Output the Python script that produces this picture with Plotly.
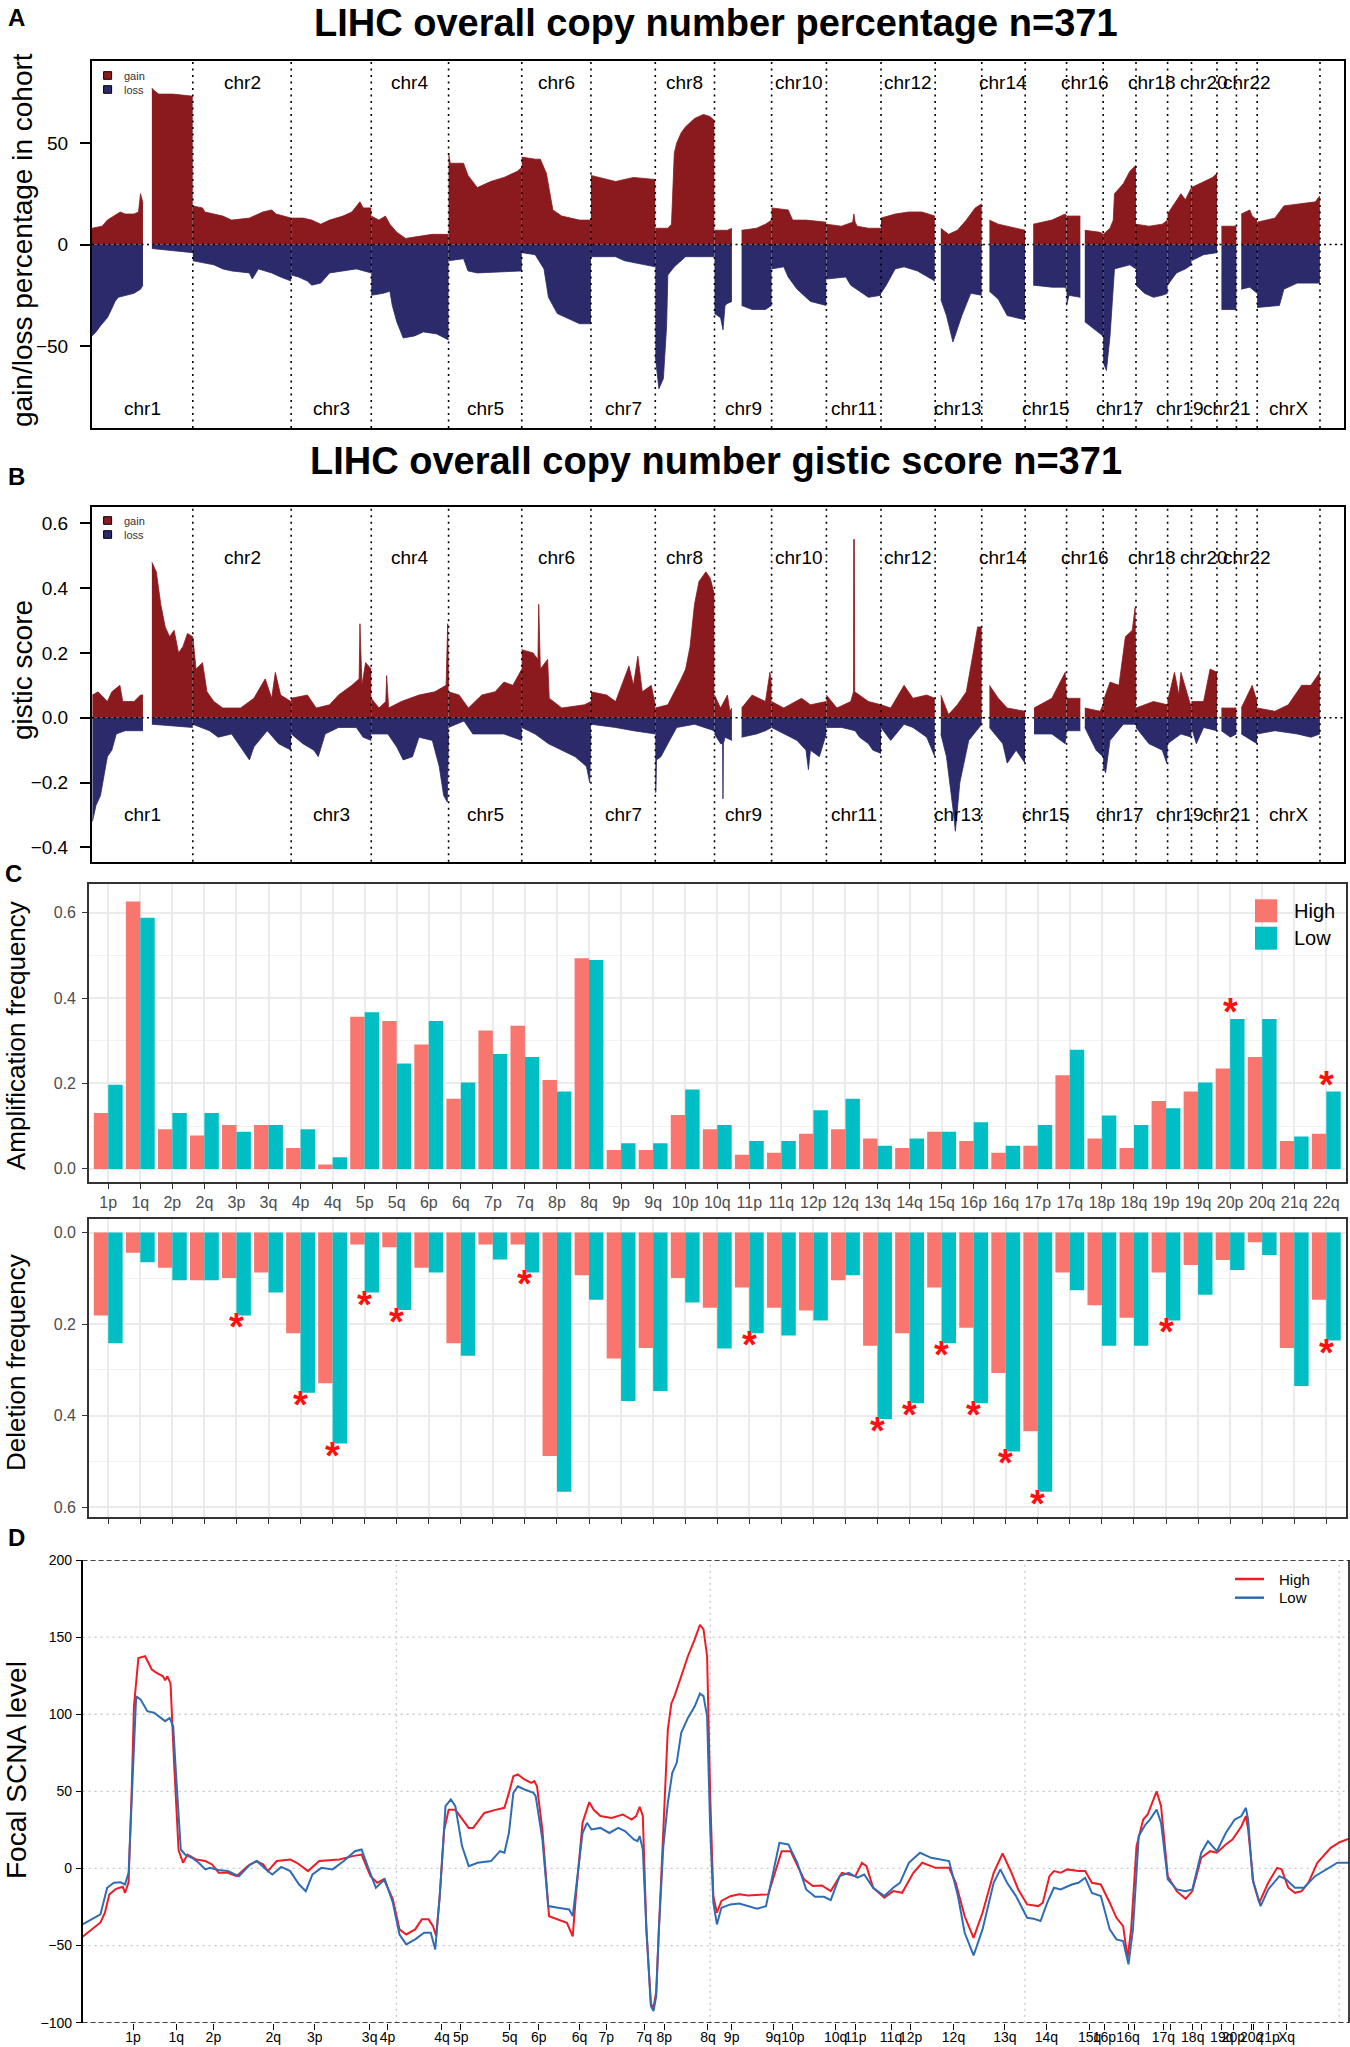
import plotly.graph_objects as go

W, H = 1350, 2047
FONT = "Liberation Sans, Arial, Helvetica, sans-serif"

# ---------------- data: panels A / B (genome profiles) ----------------
CHROMS = ["1", "2", "3", "4", "5", "6", "7", "8", "9", "10", "11", "12", "13", "14",
          "15", "16", "17", "18", "19", "20", "21", "22", "X"]
CHROM_LEN = [249.3, 243.2, 198.0, 191.2, 180.9, 171.1, 159.1, 146.4, 141.2, 135.5, 135.0,
             133.9, 115.2, 107.3, 102.5, 90.4, 81.2, 78.1, 59.1, 63.0, 48.1, 51.3, 155.3]
GENOME_END = 3095.7  # includes chrY space

# position (Mb within chromosome), value ; None splits arms
PCT_GAIN = {
    "1": ([0, 25, 38, 55, 70, 82, 104, 115, 120, 124, 126, None, 148, 152, 165, 200, 249],
          [8, 9, 12, 14, 16, 15, 15, 16, 25, 22, 20, None, 77, 76, 74, 74, 73]),
    "2": ([0, 24, 30, 52, 74, 96, 140, 173, 195, 206, 228, 243],
          [19, 18, 16, 15, 14, 12, 13, 16, 17, 15, 14, 13]),
    "3": ([0, 29, 51, 73, 95, 128, 150, 170, 178, 198], [13, 13, 12, 10, 12, 14, 16, 21, 18, 18]),
    "4": ([0, 19, 35, 46, 63, 85, 118, 151, 191], [14, 12, 14, 10, 6, 3, 4, 5, 5]),
    "5": ([0, 4, 37, 48, 71, 104, 137, 170, 181], [45, 40, 40, 34, 28, 31, 33, 36, 38]),
    "6": ([0, 33, 46, 61, 77, 99, 143, 171], [43, 42, 42, 35, 17, 14, 12, 12]),
    "7": ([0, 39, 61, 105, 159], [34, 32, 31, 33, 32]),
    "8": ([0, 20, 31, 40, 44, 47, 53, 64, 75, 97, 119, 135, 146],
          [8, 8, 8, 10, 30, 45, 50, 55, 58, 62, 64, 63, 61]),
    "9": ([0, 32, 43, None, 67, 104, 126, 141], [7, 7, 8, None, 7, 8, 10, 12]),
    "10": ([0, 41, 52, 85, 135], [18, 17, 12, 12, 11]),
    "11": ([0, 37, 65, 68, 71, 76, 104, 135], [10, 9, 11, 15, 11, 9, 8, 8]),
    "12": ([0, 35, 68, 101, 133], [13, 15, 16, 16, 14]),
    "13": ([14, 33, 55, 77, 99, 115], [8, 5, 7, 12, 18, 20]),
    "14": ([19, 41, 63, 107], [12, 10, 9, 7]),
    "15": ([20, 66, 99, 102], [10, 12, 15, 14]),
    "16": ([0, 34, None, 45, 83, 90], [14, 14, None, 7, 6, 5]),
    "17": ([0, 17, 25, 28, 50, 66, 81], [5, 8, 12, 25, 30, 36, 39]),
    "18": ([0, 32, 65, 78], [10, 9, 10, 12]),
    "19": ([0, 22, 33, 44, 59], [15, 22, 25, 22, 28]),
    "20": ([0, 30, 52, 63], [28, 31, 33, 35]),
    "21": ([11, 48], [9, 9]),
    "22": ([12, 33, 39, 51], [15, 17, 14, 12]),
    "X": ([0, 44, 66, 99, 144, 155], [11, 13, 19, 20, 21, 24]),
}
PCT_LOSS = {
    "1": ([0, 10, 21, 38, 48, 57, 65, 82, 104, 120, 126, None, 148, 200, 249],
          [-45, -43, -40, -36, -32, -28, -26, -25, -24, -22, -20, None, -2, -3, -4]),
    "2": ([0, 30, 52, 74, 96, 140, 147, 162, 195, 217, 243],
          [-8, -9, -10, -12, -13, -14, -17, -12, -14, -16, -18]),
    "3": ([0, 18, 40, 51, 73, 95, 128, 161, 198], [-15, -16, -18, -20, -19, -14, -13, -12, -14]),
    "4": ([0, 30, 46, 52, 63, 79, 107, 129, 162, 191], [-25, -24, -23, -30, -38, -46, -45, -43, -44, -47]),
    "5": ([0, 37, 48, 71, 181], [-8, -7, -13, -14, -13]),
    "6": ([0, 33, 55, 66, 88, 121, 143, 171], [-4, -5, -12, -26, -34, -37, -39, -39]),
    "7": ([0, 61, 83, 159], [-6, -6, -8, -11]),
    "8": ([0, 9, 20, 28, 31, 47, 75, 146], [-55, -71, -66, -40, -15, -11, -6, -6]),
    "9": ([0, 15, 21, 26, 32, 43, None, 67, 93, 126, 141],
          [-34, -36, -42, -30, -29, -28, None, -30, -32, -32, -30]),
    "10": ([0, 30, 41, 63, 96, 135], [-12, -11, -16, -22, -28, -30]),
    "11": ([0, 48, 60, 82, 104, 135], [-17, -16, -20, -23, -26, -25]),
    "12": ([0, 13, 35, 57, 90, 133], [-24, -20, -12, -11, -13, -18]),
    "13": ([14, 28, 44, 66, 88, 115], [-27, -35, -48, -35, -24, -25]),
    "14": ([19, 41, 63, 85, 107], [-23, -27, -35, -36, -37]),
    "15": ([20, 66, 99, 102], [-20, -21, -21, -22]),
    "16": ([0, 6, 34, None, 45, 72, 90], [-30, -25, -26, None, -38, -42, -45]),
    "17": ([0, 8, 17, 25, 28, 66, 81], [-58, -62, -45, -20, -12, -10, -12]),
    "18": ([0, 21, 43, 65, 78], [-20, -24, -26, -25, -24]),
    "19": ([0, 22, 44, 59], [-20, -14, -12, -10]),
    "20": ([0, 30, 63], [-8, -5, -4]),
    "21": ([11, 48], [-32, -32]),
    "22": ([12, 33, 39, 51], [-22, -21, -22, -24]),
    "X": ([0, 44, 55, 66, 99, 155], [-31, -30, -30, -22, -19, -19]),
}
GIS_GAIN = {
    "1": ([1, 15, 38, 49, 69, 76, 104, 120, 126, None, 148, 159, 170, 181, 192, 203, 214, 225, 236, 249],
          [0.07, 0.08, 0.05, 0.08, 0.10, 0.05, 0.05, 0.07, 0.07, None,
           0.48, 0.45, 0.35, 0.28, 0.25, 0.27, 0.20, 0.22, 0.26, 0.25]),
    "2": ([0, 8, 24, 35, 52, 74, 118, 151, 179, 195, 204, 217, 243],
          [0.25, 0.15, 0.17, 0.08, 0.05, 0.03, 0.03, 0.06, 0.12, 0.06, 0.14, 0.07, 0.05]),
    "3": ([0, 40, 62, 95, 117, 150, 168, 170, 175, 184, 198],
          [0.06, 0.07, 0.03, 0.04, 0.07, 0.10, 0.12, 0.29, 0.10, 0.17, 0.15]),
    "4": ([0, 19, 36, 38, 43, 74, 118, 157, 185, 189, 191],
          [0.06, 0.03, 0.05, 0.13, 0.03, 0.05, 0.07, 0.08, 0.10, 0.29, 0.10]),
    "5": ([0, 26, 49, 82, 115, 137, 159, 181], [0.08, 0.07, 0.03, 0.07, 0.08, 0.11, 0.10, 0.15]),
    "6": ([0, 28, 40, 42, 46, 64, 68, 99, 155, 171],
          [0.21, 0.20, 0.18, 0.35, 0.15, 0.18, 0.06, 0.03, 0.04, 0.05]),
    "7": ([0, 39, 61, 83, 94, 105, 116, 127, 149, 159],
          [0.08, 0.07, 0.05, 0.12, 0.16, 0.10, 0.19, 0.08, 0.10, 0.04]),
    "8": ([0, 31, 64, 75, 86, 97, 108, 125, 136, 146],
          [0.03, 0.04, 0.12, 0.15, 0.22, 0.35, 0.42, 0.45, 0.43, 0.38]),
    "9": ([0, 15, 32, 38, 43, None, 67, 93, 126, 137, 141],
          [0.07, 0.03, 0.07, 0.02, 0.03, None, 0.03, 0.07, 0.05, 0.14, 0.10]),
    "10": ([0, 30, 74, 96, 135], [0.05, 0.03, 0.06, 0.04, 0.05]),
    "11": ([0, 26, 60, 67, 67.5, 69, 70, 104, 135],
           [0.07, 0.03, 0.05, 0.08, 0.55, 0.55, 0.08, 0.05, 0.04]),
    "12": ([0, 24, 57, 79, 113, 133], [0.04, 0.03, 0.10, 0.06, 0.07, 0.06]),
    "13": ([14, 33, 55, 77, 94, 105, 115], [0.07, 0.01, 0.04, 0.08, 0.20, 0.28, 0.28]),
    "14": ([19, 41, 63, 107], [0.10, 0.06, 0.03, 0.02]),
    "15": ([22, 66, 99, 102], [0.03, 0.06, 0.14, 0.06]),
    "16": ([0, 34, None, 45, 83, 90], [0.06, 0.06, None, 0.03, 0.02, 0.04]),
    "17": ([0, 17, 39, 55, 72, 79, 81], [0.05, 0.11, 0.10, 0.25, 0.27, 0.34, 0.05]),
    "18": ([0, 43, 78], [0.03, 0.05, 0.04]),
    "19": ([0, 17, 28, 33, 59], [0.05, 0.14, 0.07, 0.14, 0.03]),
    "20": ([0, 30, 46, 63], [0.05, 0.05, 0.15, 0.14]),
    "21": ([11, 48], [0.03, 0.03]),
    "22": ([12, 39, 51], [0.03, 0.10, 0.05]),
    "X": ([0, 44, 77, 110, 133, 155], [0.03, 0.02, 0.04, 0.10, 0.10, 0.14]),
}
GIS_LOSS = {
    "1": ([1, 10, 21, 38, 49, 60, 82, 126, None, 148, 249],
          [-0.32, -0.27, -0.24, -0.12, -0.10, -0.05, -0.04, -0.04, None, -0.02, -0.03]),
    "2": ([0, 41, 63, 96, 140, 151, 184, 212, 243],
          [-0.02, -0.04, -0.06, -0.05, -0.13, -0.09, -0.04, -0.08, -0.10]),
    "3": ([0, 29, 56, 67, 84, 117, 161, 178, 198],
          [-0.05, -0.08, -0.10, -0.12, -0.05, -0.03, -0.03, -0.06, -0.07]),
    "4": ([0, 41, 63, 79, 102, 118, 151, 168, 179, 188, 191],
          [-0.05, -0.05, -0.09, -0.13, -0.12, -0.06, -0.07, -0.15, -0.24, -0.26, -0.05]),
    "5": ([0, 38, 60, 104, 137, 181], [-0.03, -0.01, -0.05, -0.05, -0.05, -0.07]),
    "6": ([0, 33, 66, 99, 132, 160, 168, 171], [-0.03, -0.05, -0.08, -0.10, -0.12, -0.15, -0.20, -0.05]),
    "7": ([0, 61, 105, 159], [-0.02, -0.03, -0.04, -0.05]),
    "8": ([0, 1.5, 3, 14, 31, 53, 97, 146], [-0.23, -0.23, -0.13, -0.12, -0.08, -0.03, -0.02, -0.04]),
    "9": ([0, 15, 20, 21, 22, 26, 43, None, 67, 104, 126, 141],
          [-0.05, -0.08, -0.08, -0.25, -0.08, -0.06, -0.07, None, -0.06, -0.05, -0.04, -0.03]),
    "10": ([0, 30, 63, 85, 90, 91, 96, 118, 135],
           [-0.03, -0.05, -0.07, -0.10, -0.16, -0.16, -0.10, -0.12, -0.05]),
    "11": ([0, 38, 71, 82, 104, 115, 135], [-0.03, -0.03, -0.04, -0.06, -0.08, -0.10, -0.11]),
    "12": ([0, 24, 57, 79, 113, 133], [-0.03, -0.07, -0.02, -0.03, -0.06, -0.12]),
    "13": ([14, 28, 44, 50, 61, 83, 115], [-0.05, -0.12, -0.28, -0.35, -0.20, -0.07, -0.02]),
    "14": ([19, 52, 63, 85, 107], [-0.03, -0.08, -0.14, -0.10, -0.14]),
    "15": ([22, 66, 99, 102], [-0.05, -0.05, -0.08, -0.04]),
    "16": ([0, 34, None, 45, 73, 90], [-0.04, -0.04, None, -0.03, -0.10, -0.12]),
    "17": ([0, 6, 17, 50, 81], [-0.15, -0.17, -0.07, -0.02, -0.02]),
    "18": ([0, 32, 65, 76, 78], [-0.03, -0.08, -0.10, -0.14, -0.06]),
    "19": ([0, 33, 59], [-0.08, -0.05, -0.06]),
    "20": ([0, 12, 30, 63], [-0.03, -0.08, -0.03, -0.04]),
    "21": ([11, 33, 48], [-0.04, -0.06, -0.05]),
    "22": ([12, 51], [-0.05, -0.08]),
    "X": ([0, 44, 99, 133, 155], [-0.05, -0.04, -0.05, -0.06, -0.05]),
}

# ---------------- data: panel C (arm-level frequencies) ----------------
ARMS = ["1p", "1q", "2p", "2q", "3p", "3q", "4p", "4q", "5p", "5q", "6p", "6q", "7p", "7q",
        "8p", "8q", "9p", "9q", "10p", "10q", "11p", "11q", "12p", "12q", "13q", "14q", "15q",
        "16p", "16q", "17p", "17q", "18p", "18q", "19p", "19q", "20p", "20q", "21q", "22q"]
AMP_HIGH = [0.131, 0.626, 0.093, 0.078, 0.103, 0.103, 0.049, 0.010, 0.356, 0.346, 0.291, 0.164,
            0.324, 0.335, 0.208, 0.493, 0.044, 0.044, 0.126, 0.093, 0.033, 0.038, 0.082, 0.093,
            0.071, 0.049, 0.087, 0.065, 0.038, 0.054, 0.219, 0.071, 0.049, 0.159, 0.181, 0.235,
            0.262, 0.065, 0.082]
AMP_LOW = [0.197, 0.588, 0.131, 0.131, 0.087, 0.103, 0.093, 0.027, 0.367, 0.247, 0.346, 0.202,
           0.269, 0.262, 0.181, 0.489, 0.060, 0.060, 0.186, 0.103, 0.065, 0.065, 0.137, 0.164,
           0.054, 0.071, 0.087, 0.109, 0.054, 0.103, 0.279, 0.125, 0.103, 0.142, 0.202, 0.351,
           0.351, 0.076, 0.181]
DEL_HIGH = [0.181, 0.044, 0.077, 0.104, 0.099, 0.087, 0.220, 0.329, 0.026, 0.032, 0.077, 0.242,
            0.026, 0.026, 0.488, 0.093, 0.275, 0.252, 0.099, 0.164, 0.120, 0.164, 0.170, 0.104,
            0.247, 0.220, 0.120, 0.208, 0.307, 0.434, 0.087, 0.159, 0.186, 0.087, 0.071, 0.060,
            0.021, 0.252, 0.147]
DEL_LOW = [0.242, 0.065, 0.104, 0.104, 0.181, 0.131, 0.350, 0.461, 0.131, 0.169, 0.087, 0.269,
           0.059, 0.087, 0.566, 0.147, 0.368, 0.346, 0.153, 0.253, 0.220, 0.225, 0.192, 0.093,
           0.407, 0.373, 0.242, 0.373, 0.478, 0.566, 0.126, 0.247, 0.247, 0.192, 0.136, 0.082,
           0.049, 0.335, 0.236]
AMP_STAR = ["20p", "22q"]
DEL_STAR = ["3p", "4p", "4q", "5p", "5q", "7q", "11p", "13q", "14q", "15q", "16p", "16q",
            "17p", "19p", "22q"]

# ---------------- data: panel D (focal SCNA level, genome bins) ----------------
D_HIGH_BIN = [0, 15, 30, 40, 50, 60, 75, 90, 95, 103, 110, 115, 125, 140, 155, 165, 180, 185, 190,
              197, 205, 215, 225, 235, 255, 275, 290, 305, 325, 345, 370, 390, 405, 415, 435, 465,
              480, 505, 530, 575, 605, 625, 645, 660, 675, 695, 710, 725, 745, 760, 775, 785, 792,
              800, 810, 820, 835, 865, 875, 900, 925, 945, 955, 965, 975, 990, 1005, 1012, 1018,
              1030, 1045, 1065, 1085, 1098, 1105, 1120, 1135, 1145, 1160, 1185, 1210, 1230, 1240,
              1248, 1255, 1263, 1273, 1278, 1285, 1291, 1301, 1311, 1319, 1326, 1341, 1356, 1371,
              1383, 1391, 1399, 1406, 1413, 1421, 1431, 1451, 1471, 1491, 1521, 1536, 1551, 1566,
              1586, 1601, 1616, 1636, 1656, 1676, 1701, 1731, 1746, 1756, 1771, 1796, 1816, 1836,
              1861, 1881, 1911, 1941, 1956, 1976, 1996, 2016, 2041, 2061, 2081, 2096, 2116, 2141,
              2151, 2166, 2176, 2191, 2206, 2231, 2246, 2261, 2281, 2301, 2316, 2331, 2341, 2349,
              2361, 2376, 2386, 2396, 2406, 2416, 2431, 2451, 2471, 2486, 2506, 2526, 2541, 2561,
              2576, 2596, 2606, 2611, 2623, 2636, 2656, 2676, 2686, 2701, 2716, 2731, 2746, 2766,
              2796, 2816, 2836]
D_HIGH = [-44.3, -40.6, -37, -35, -28.7, -16.8, -13.2, -11.9, -15.8, -9, 51, 105, 136.5, 137.6,
          129, 127, 124.6, 122, 124.6, 120, 68, 12, 3.7, 9, 5.8, 4.8, 2.6, -2.8, -2.8, -5, 1.5,
          4.8, 2.6, -1.7, 4.8, 5.8, 3.7, -1.7, 4.8, 5.8, 8, 9, -5, -9.3, -7, -20, -39.5, -42.8,
          -39.5, -33, -33, -37.4, -43.8, -18, 25, 38, 38, 26.3, 26.3, 36, 38, 39.3, 49, 59.8, 61,
          57.7, 55.5, 56.6, 53.3, 25, -31, -33, -35.2, -44, -18, 29.6, 43, 38, 34, 32.8, 35,
          31.7, 34, 40, 34, -39.5, -87, -91.5, -80, -39.5, 25, 90, 107, 111.7, 124.6, 137.6,
          148.4, 158, 155, 137.6, 46.9, -18, -28.7, -21, -18, -16.8, -17.5, -16.8, -16.8, -2.8,
          11.2, 11.2, 1.5, -7, -11.4, -11, -14.7, -2.8, -5, 3.7, 1.5, -12.5, -19, -14.7, -15.8,
          -2.8, 3.7, 0.4, 0.4, -9.3, -31, -45, -28.7, -2.8, 9.7, -2.8, -13.6, -23.3, -24.4,
          -22.2, -5, -1.7, -2.8, -0.6, -1.7, -1.7, -9.3, -10.4, -22.2, -32, -37.4, -57.9, -39.5,
          14.5, 31.7, 35, 42.5, 50, 40.4, -5, -14.7, -19.7, -14.7, 6.9, 11.2, 10.2, 15.6, 18.8,
          27.4, 34, 25.3, -9.3, -22.2, -9.3, 0.4, -0.6, -12.5, -15.8, -14.7, -9.3, 3.7, 13.4,
          17, 19.2]
D_LOW_BIN = [0, 25, 40, 55, 70, 85, 95, 103, 110, 120, 130, 145, 160, 175, 185, 195, 203, 210,
             220, 230, 245, 260, 275, 285, 305, 325, 350, 375, 390, 415, 425, 445, 465, 485, 500,
             515, 535, 560, 585, 610, 625, 640, 657, 677, 695, 710, 725, 745, 765, 780, 790, 800,
             813, 825, 835, 850, 865, 885, 915, 935, 945, 955, 965, 975, 990, 1010, 1015, 1030,
             1043, 1065, 1090, 1098, 1107, 1120, 1130, 1140, 1160, 1180, 1200, 1215, 1235, 1243,
             1248, 1255, 1263, 1273, 1279, 1285, 1291, 1301, 1311, 1321, 1331, 1341, 1356, 1371,
             1383, 1391, 1399, 1406, 1413, 1421, 1431, 1451, 1471, 1491, 1511, 1531, 1546, 1561,
             1581, 1601, 1621, 1641, 1661, 1676, 1696, 1716, 1736, 1751, 1771, 1796, 1816, 1831,
             1851, 1876, 1901, 1921, 1941, 1961, 1976, 1996, 2016, 2041, 2056, 2071, 2091, 2116,
             2131, 2146, 2161, 2176, 2191, 2216, 2231, 2246, 2261, 2281, 2301, 2316, 2331, 2343,
             2353, 2366, 2381, 2391, 2406, 2416, 2431, 2451, 2471, 2486, 2506, 2521, 2541, 2561,
             2581, 2596, 2606, 2611, 2621, 2639, 2656, 2681, 2696, 2716, 2736, 2761, 2791, 2811,
             2836]
D_LOW = [-36.3, -32, -29.8, -12.5, -9.3, -8.9, -10.4, -2.8, 46.9, 111.7, 109.5, 102, 101, 97.6,
         95.5, 97.6, 92, 57.7, 12.3, 9, 6.9, 3.7, -0.6, 0.4, -1, -1.7, -5, 2.6, 4.8, -1.7, -3.9,
         1, -1.7, -10.4, -14.7, -3.9, 0.4, -0.6, 4.8, 11.2, 12.3, 0.4, -12.5, -7, -22.2, -42.8,
         -49.2, -46, -41.7, -41.7, -52.5, -18, 40.4, 44.7, 40.4, 14.5, 1.5, 3.7, 4.8, 11.2, 10.2,
         23, 49, 53.3, 51.2, 49, 46.9, 18.8, -24.4, -25.5, -26.6, -30.9, -9.3, 23, 29.6, 25.3,
         26.3, 23, 26.3, 24.2, 18.8, 17.7, 21, 12.3, -39.5, -89.2, -92.4, -82.7, -39.5, 14.5,
         42.5, 62, 68.5, 87.9, 97.6, 105, 113.4, 111.7, 98.7, 25.3, -22.2, -36.3, -25.5, -23.3,
         -22.7, -24.4, -26.1, -24.4, -5, 16.6, 15.6, 3.7, -13.6, -18.4, -18.4, -20.5, -5, -2.8,
         -6, -3.9, -12.5, -17.9, -12.5, -9.3, 3.7, 10.2, 6.9, 5.8, 4.8, -17.9, -41.7, -56.4,
         -39.5, -9.3, -0.6, -9.3, -17.9, -32, -32.6, -34.1, -22.2, -12.5, -13.6, -10.4, -9.3, -6,
         -15.8, -17.9, -39.5, -46, -47, -62.2, -39.5, 21, 28.5, 31.7, 38.2, 29.6, -7, -13.6,
         -14.7, -13.6, 10.2, 17.7, 11.2, 23, 31.7, 34, 39.3, 31.7, -7, -24.4, -13.6, -5, -7,
         -12.5, -12.5, -5, 0.4, 3.7, 3.7]
D_TICK_BIN = [113, 210, 293, 427, 520, 643, 683, 805, 847, 957, 1022, 1113, 1173, 1258, 1303, 1401,
              1454, 1547, 1591, 1687, 1731, 1811, 1855, 1951, 2066, 2159, 2256, 2289, 2342, 2357,
              2421, 2436, 2487, 2507, 2552, 2578, 2619, 2624, 2656, 2697]
D_TICK_TEXT = ["1p", "1q", "2p", "2q", "3p", "3q", "4p", "4q", "5p", "5q", "6p", "6q", "7p", "7q",
               "8p", "8q", "9p", "9q", "10p", "10q", "11p", "11q", "12p", "12q", "13q", "14q",
               "15q", "16p", "16q", "", "17q", "", "18q", "", "19q", "20p", "20q", "", "21p", "Xq"]
D_GRID_BIN = [703, 1406, 2111, 2815]
D_BIN_MAX = 2837

# ---------------- styling ----------------
GAIN_C = "#8B1A1E"
LOSS_C = "#2B2A6B"
HIGH_C = "#F8766D"
LOW_C = "#00BFC4"


def xd(a, b):
    return [a / W, b / W]


def yd(top, bottom):
    return [1 - bottom / H, 1 - top / H]


def py(y):
    return 1 - y / H


def pxx(x):
    return x / W


fig = go.Figure()

offsets = {}
acc = 0.0
for c, L in zip(CHROMS, CHROM_LEN):
    offsets[c] = acc
    acc += L


def add_profile(data, color, xa, ya):
    for c, (pos, val) in data.items():
        off = offsets[c]
        sx, sy = [], []
        for p, v in list(zip(pos, val)) + [(None, None)]:
            if p is None:
                if sx:
                    fig.add_trace(go.Scatter(
                        x=sx, y=sy, mode="lines", fill="tozeroy", fillcolor=color,
                        line=dict(color=color, width=0.8), xaxis=xa, yaxis=ya,
                        showlegend=False, hoverinfo="skip"))
                sx, sy = [], []
            else:
                sx.append(off + p)
                sy.append(v)


add_profile(PCT_GAIN, GAIN_C, "x", "y")
add_profile(PCT_LOSS, LOSS_C, "x", "y")
add_profile(GIS_GAIN, GAIN_C, "x2", "y2")
add_profile(GIS_LOSS, LOSS_C, "x2", "y2")

# panel C bars
xs = list(range(1, len(ARMS) + 1))
fig.add_trace(go.Bar(x=xs, y=AMP_HIGH, marker=dict(color=HIGH_C, line=dict(width=0)),
                     xaxis="x3", yaxis="y3", showlegend=False, name="High"))
fig.add_trace(go.Bar(x=xs, y=AMP_LOW, marker=dict(color=LOW_C, line=dict(width=0)),
                     xaxis="x3", yaxis="y3", showlegend=False, name="Low"))
fig.add_trace(go.Bar(x=xs, y=DEL_HIGH, marker=dict(color=HIGH_C, line=dict(width=0)),
                     xaxis="x4", yaxis="y4", showlegend=False, name="High"))
fig.add_trace(go.Bar(x=xs, y=DEL_LOW, marker=dict(color=LOW_C, line=dict(width=0)),
                     xaxis="x4", yaxis="y4", showlegend=False, name="Low"))

# panel D lines
fig.add_trace(go.Scatter(x=D_HIGH_BIN, y=D_HIGH, mode="lines", line=dict(color="#EE1C25", width=2),
                         xaxis="x5", yaxis="y5", showlegend=False, name="High"))
fig.add_trace(go.Scatter(x=D_LOW_BIN, y=D_LOW, mode="lines", line=dict(color="#2E6DB4", width=2),
                         xaxis="x5", yaxis="y5", showlegend=False, name="Low"))

shapes = []
ann = []

# ---- panels A/B decorations
box_axis = dict(showline=True, mirror=True, linecolor="black", linewidth=2, showgrid=False,
                zeroline=False)
for k, (xa, ya, ytop_lab, ybot_lab, leg_dy) in enumerate(
        [("x", "y", 82.5, 409, 0), ("x2", "y2", 557.5, 814, 445)]):
    for i, c in enumerate(CHROMS):
        e = offsets[c] + CHROM_LEN[i]
        shapes.append(dict(type="line", xref=xa, yref=ya + " domain", x0=e, x1=e, y0=0, y1=1,
                           line=dict(color="black", width=1.6, dash="2px,4.5px"), layer="above"))
    shapes.append(dict(type="line", xref=xa + " domain", yref=ya, x0=0, x1=1, y0=0, y1=0,
                       line=dict(color="black", width=1.6, dash="2px,3.5px"), layer="above"))
    for i, c in enumerate(CHROMS):
        mid = offsets[c] + CHROM_LEN[i] / 2
        top = (i % 2 == 1)
        ann.append(dict(x=mid, xref=xa, y=py(ytop_lab if top else ybot_lab), yref="paper",
                        text="chr" + c, showarrow=False, font=dict(size=19, color="black"),
                        xanchor="center", yanchor="middle"))
    # small legend
    for j, (lab, col) in enumerate([("gain", GAIN_C), ("loss", LOSS_C)]):
        t = 71.7 + leg_dy + j * 14
        shapes.append(dict(type="rect", xref="paper", yref="paper", x0=pxx(103.6), x1=pxx(111.6),
                           y0=py(t + 7.6), y1=py(t), fillcolor=col,
                           line=dict(color="black", width=1), layer="above"))
        ann.append(dict(x=pxx(122), y=py(t + 4), xref="paper", yref="paper", text=lab,
                        showarrow=False, font=dict(size=11, color="#333333"),
                        xanchor="left", yanchor="middle"))

# titles and letters
ann += [
    dict(x=pxx(716), y=1.0, xref="paper", yref="paper", showarrow=False,
         text="<b>LIHC overall copy number percentage n=371</b>", font=dict(size=38, color="black"),
         xanchor="center", yanchor="top"),
    dict(x=pxx(716), y=py(461), xref="paper", yref="paper", showarrow=False,
         text="<b>LIHC overall copy number gistic score n=371</b>", font=dict(size=38, color="black"),
         xanchor="center", yanchor="middle"),
    dict(x=pxx(16), y=py(18), xref="paper", yref="paper", showarrow=False, text="<b>A</b>",
         font=dict(size=24, color="black"), xanchor="center", yanchor="middle"),
    dict(x=pxx(16), y=py(477), xref="paper", yref="paper", showarrow=False, text="<b>B</b>",
         font=dict(size=24, color="black"), xanchor="center", yanchor="middle"),
    dict(x=pxx(13), y=py(874), xref="paper", yref="paper", showarrow=False, text="<b>C</b>",
         font=dict(size=24, color="black"), xanchor="center", yanchor="middle"),
    dict(x=pxx(16), y=py(1537), xref="paper", yref="paper", showarrow=False, text="<b>D</b>",
         font=dict(size=24, color="black"), xanchor="center", yanchor="middle"),
    dict(x=pxx(22), y=py(240), xref="paper", yref="paper", showarrow=False,
         text="gain/loss percentage in cohort", textangle=-90, font=dict(size=28, color="black"),
         xanchor="center", yanchor="middle"),
    dict(x=pxx(22), y=py(670), xref="paper", yref="paper", showarrow=False,
         text="gistic score", textangle=-90, font=dict(size=28, color="black"),
         xanchor="center", yanchor="middle"),
    dict(x=pxx(16), y=py(1036), xref="paper", yref="paper", showarrow=False,
         text="Amplification frequency", textangle=-90, font=dict(size=26, color="black"),
         xanchor="center", yanchor="middle"),
    dict(x=pxx(16), y=py(1363), xref="paper", yref="paper", showarrow=False,
         text="Deletion frequency", textangle=-90, font=dict(size=26, color="black"),
         xanchor="center", yanchor="middle"),
    dict(x=pxx(16), y=py(1770), xref="paper", yref="paper", showarrow=False,
         text="Focal SCNA level", textangle=-90, font=dict(size=28, color="black"),
         xanchor="center", yanchor="middle"),
]

# C stars
for arm in AMP_STAR:
    i = ARMS.index(arm)
    ann.append(dict(x=i + 1, y=AMP_LOW[i], xref="x3", yref="y3", text="<b>*</b>", showarrow=False,
                    font=dict(size=38, color="#FF1010"), yanchor="middle", yshift=7))
for arm in DEL_STAR:
    i = ARMS.index(arm)
    ann.append(dict(x=i + 1, y=DEL_LOW[i], xref="x4", yref="y4", text="<b>*</b>", showarrow=False,
                    font=dict(size=38, color="#FF1010"), yanchor="middle", yshift=-12))

# C legend (white background + keys)
shapes.append(dict(type="rect", xref="paper", yref="paper", x0=pxx(1248), x1=pxx(1342),
                   y0=py(955), y1=py(893), fillcolor="white", line=dict(width=0), layer="between"))
for j, (lab, col) in enumerate([("High", HIGH_C), ("Low", LOW_C)]):
    t = 899.3 + j * 27.4
    shapes.append(dict(type="rect", xref="paper", yref="paper", x0=pxx(1255), x1=pxx(1277.2),
                       y0=py(t + 23), y1=py(t), fillcolor=col, line=dict(width=0), layer="above"))
    ann.append(dict(x=pxx(1292), y=py(t + 11.5), xref="paper", yref="paper", text=lab,
                    showarrow=False, font=dict(size=20, color="black"), xanchor="left",
                    yanchor="middle"))

# D decorations
for yv in [200, -100]:
    shapes.append(dict(type="line", xref="x5 domain", yref="y5", x0=0, x1=1, y0=yv, y1=yv,
                       line=dict(color="black", width=1.5, dash="5px,3px"), layer="above"))
shapes.append(dict(type="line", xref="x5 domain", yref="y5 domain", x0=1, x1=1, y0=0, y1=1,
                   line=dict(color="black", width=1.5), layer="above"))
for yv in [-50, 0, 50, 100, 150]:
    shapes.append(dict(type="line", xref="x5 domain", yref="y5", x0=0, x1=1, y0=yv, y1=yv,
                       line=dict(color="#C8C8C8", width=1.3, dash="2px,4px"), layer="below"))
for xv in D_GRID_BIN:
    shapes.append(dict(type="line", xref="x5", yref="y5 domain", x0=xv, x1=xv, y0=0, y1=1,
                       line=dict(color="#C8C8C8", width=1.3, dash="2px,4px"), layer="below"))
for j, (lab, col) in enumerate([("High", "#EE1C25"), ("Low", "#2E6DB4")]):
    yy = 1579 + j * 18.7
    shapes.append(dict(type="line", xref="paper", yref="paper", x0=pxx(1235), x1=pxx(1264),
                       y0=py(yy), y1=py(yy), line=dict(color=col, width=2.5)))
    ann.append(dict(x=pxx(1277), y=py(yy), xref="paper", yref="paper", text=lab,
                    showarrow=False, font=dict(size=15, color="black"), xanchor="left",
                    yanchor="middle"))

cgrid = "#EBEBEB"
fig.update_layout(
    width=W, height=H, margin=dict(l=0, r=0, t=0, b=0), paper_bgcolor="white",
    plot_bgcolor="white", font=dict(family=FONT, color="black"),
    barmode="group", bargap=0.1, bargroupgap=0, showlegend=False,
    shapes=shapes, annotations=ann,
    xaxis=dict(domain=xd(92, 1344), range=[0, GENOME_END], showticklabels=False, ticks="",
               anchor="y", **box_axis),
    yaxis=dict(domain=yd(61, 428), range=[-90.3, 90.3], tickvals=[-50, 0, 50], ticks="outside",
               ticklen=10, tickwidth=1.5, tickcolor="black", tickfont=dict(size=19),
               ticklabelstandoff=8, anchor="x", **box_axis),
    xaxis2=dict(domain=xd(92, 1344), range=[0, GENOME_END], showticklabels=False, ticks="",
                anchor="y2", **box_axis),
    yaxis2=dict(domain=yd(506.7, 861.7), range=[-0.444, 0.651],
                tickvals=[-0.4, -0.2, 0, 0.2, 0.4, 0.6],
                ticktext=["\u22120.4", "\u22120.2", "0.0", "0.2", "0.4", "0.6"],
                ticks="outside", ticklen=10, tickwidth=1.5, tickcolor="black",
                tickfont=dict(size=19), ticklabelstandoff=8, anchor="x2", **box_axis),
    xaxis3=dict(domain=xd(89, 1345.5), range=[0.4, 39.6], tickvals=xs, ticktext=ARMS,
                tickfont=dict(size=16, color="#4D4D4D"), ticks="outside", ticklen=5,
                tickcolor="#333333", showgrid=True, gridcolor=cgrid, gridwidth=2, zeroline=False,
                ticklabeloverflow="allow", tickangle=0,
                showline=True, mirror=True, linecolor="#333333", linewidth=1.6, anchor="y3"),
    yaxis3=dict(domain=yd(884, 1181.7), range=[-0.03, 0.667], tickvals=[0, 0.2, 0.4, 0.6],
                ticktext=["0.0", "0.2", "0.4", "0.6"], tickfont=dict(size=16, color="#4D4D4D"),
                ticks="outside", ticklen=5, tickcolor="#333333", ticklabelstandoff=3,
                showgrid=True, gridcolor=cgrid, gridwidth=2, zeroline=False,
                minor=dict(tickvals=[0.1, 0.3, 0.5], showgrid=True, gridcolor="#F2F2F2",
                           gridwidth=1, ticks=""),
                showline=True, mirror=True, linecolor="#333333", linewidth=1.6, anchor="x3"),
    xaxis4=dict(domain=xd(89, 1345.5), range=[0.4, 39.6], tickvals=xs, showticklabels=False,
                ticks="outside", ticklen=5, tickcolor="#333333", showgrid=True, gridcolor=cgrid,
                gridwidth=2, zeroline=False, showline=True, mirror=True, linecolor="#333333",
                linewidth=1.6, anchor="y4"),
    yaxis4=dict(domain=yd(1219.3, 1517.3), range=[0.622, -0.029], tickvals=[0, 0.2, 0.4, 0.6],
                ticktext=["0.0", "0.2", "0.4", "0.6"], tickfont=dict(size=16, color="#4D4D4D"),
                ticks="outside", ticklen=5, tickcolor="#333333", ticklabelstandoff=3,
                showgrid=True, gridcolor=cgrid, gridwidth=2, zeroline=False,
                minor=dict(tickvals=[0.1, 0.3, 0.5], showgrid=True, gridcolor="#F2F2F2",
                           gridwidth=1, ticks=""),
                showline=True, mirror=True, linecolor="#333333", linewidth=1.6, anchor="x4"),
    xaxis5=dict(domain=xd(82.6, 1349), range=[0, D_BIN_MAX], tickvals=D_TICK_BIN,
                ticktext=D_TICK_TEXT, tickfont=dict(size=14), ticks="outside", ticklen=6,
                tickcolor="black", showgrid=False, zeroline=False, showline=False,
                ticklabeloverflow="allow", ticklabelstandoff=-5, tickangle=0, anchor="y5"),
    yaxis5=dict(domain=yd(1560, 2022.7), range=[-100, 200],
                tickvals=[-100, -50, 0, 50, 100, 150, 200], tickfont=dict(size=14),
                ticks="outside", ticklen=5, tickcolor="black", ticklabelstandoff=1,
                showgrid=False, zeroline=False, showline=True, linecolor="black", linewidth=1.5,
                anchor="x5"),
)
for ax in ["xaxis", "yaxis", "xaxis2", "yaxis2", "xaxis3", "yaxis3", "xaxis4", "yaxis4",
           "xaxis5", "yaxis5"]:
    fig.layout[ax].automargin = False

fig.write_html(
    "out.html",
    config={"displayModeBar": False},
    post_script="document.body.style.margin='0';document.body.style.padding='0';"
                "document.documentElement.style.overflow='hidden';",
)
